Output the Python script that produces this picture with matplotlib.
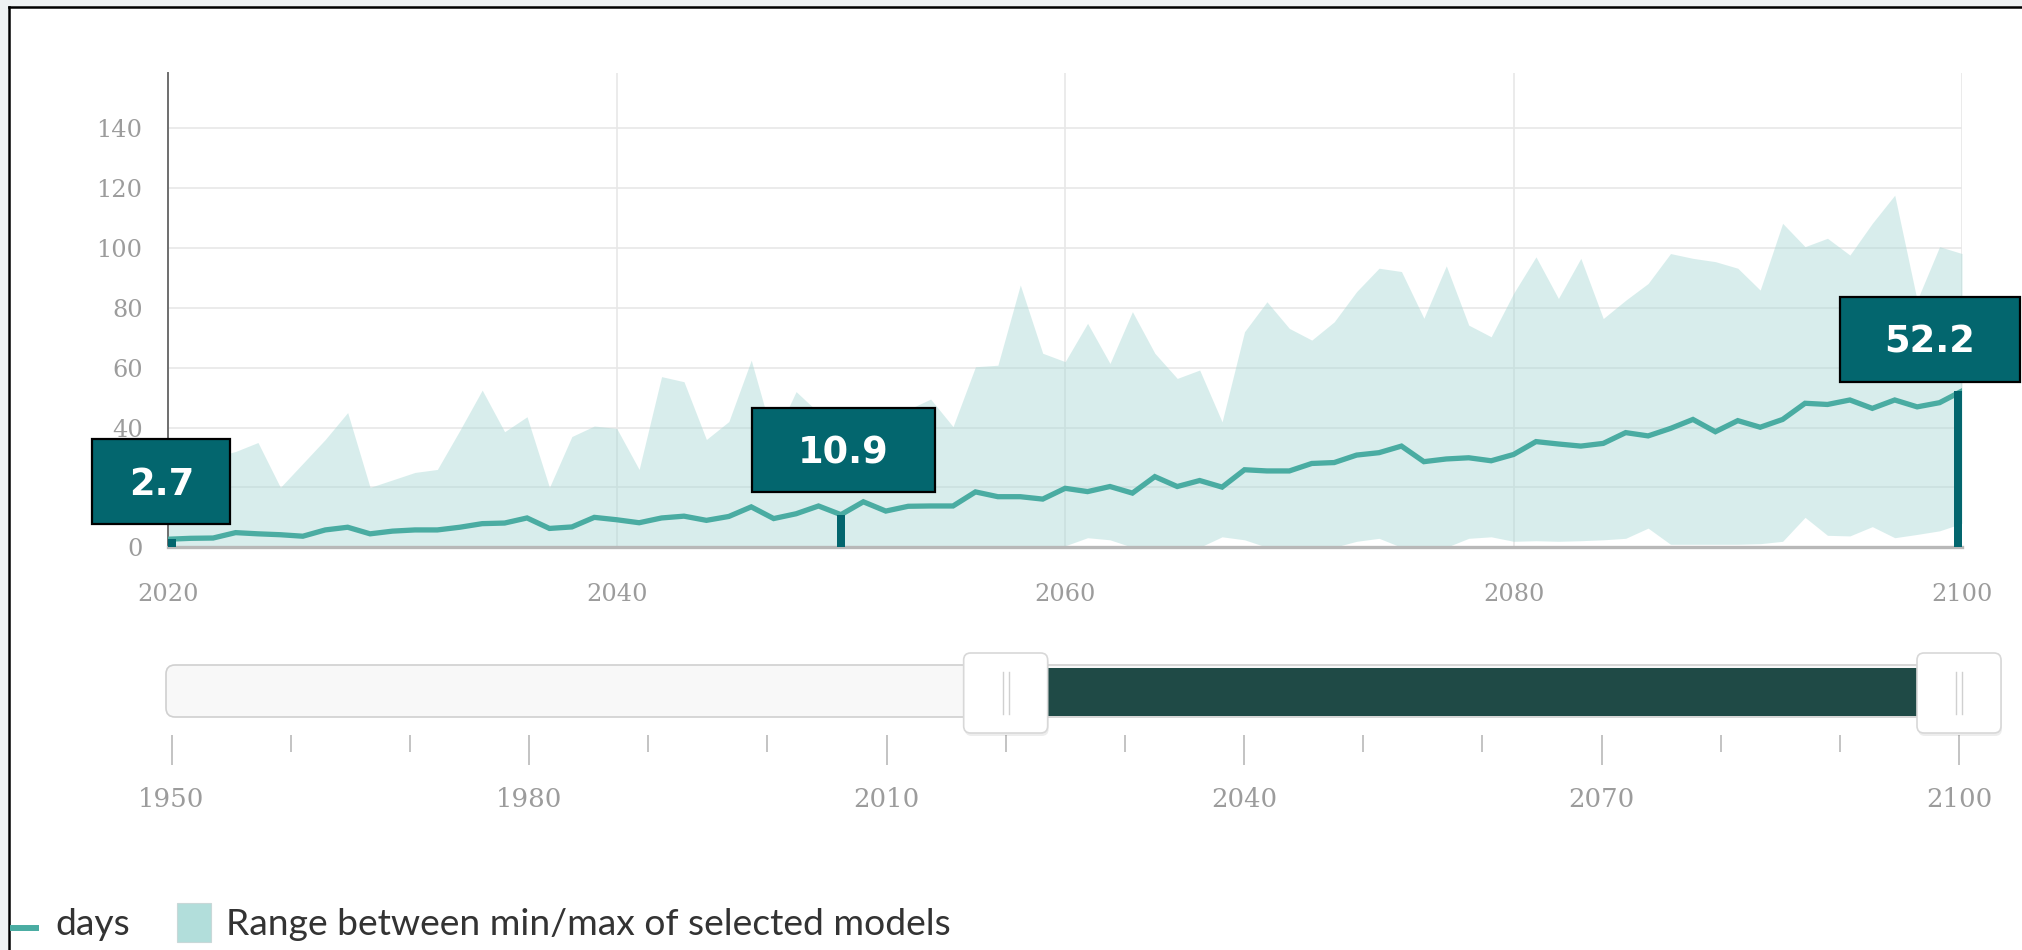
import matplotlib
matplotlib.use("Agg")
import matplotlib.pyplot as plt
from matplotlib.patches import Rectangle, FancyBboxPatch
from matplotlib.lines import Line2D
from matplotlib.transforms import IdentityTransform

# ---------------- data ----------------
years = list(range(2020, 2101))
days = [2.7, 3.0, 3.1, 4.9, 4.5, 4.2, 3.7, 5.8, 6.7, 4.5,
        5.4, 5.8, 5.8, 6.7, 7.9, 8.1, 9.8, 6.3, 6.8, 10.0,
        9.2, 8.2, 9.8, 10.4, 9.0, 10.3, 13.5, 9.6, 11.2, 13.8,
        10.9, 15.2, 12.1, 13.7, 13.8, 13.8, 18.5, 16.9, 16.9, 16.1,
        19.7, 18.6, 20.3, 18.1, 23.6, 20.3, 22.3, 20.1, 25.9, 25.5,
        25.5, 28.0, 28.3, 30.8, 31.6, 33.8, 28.6, 29.5, 29.9, 28.9,
        31.0, 35.3, 34.5, 33.8, 34.7, 38.3, 37.2, 39.7, 42.7, 38.6,
        42.3, 40.1, 42.7, 48.1, 47.7, 49.2, 46.4, 49.2, 46.9, 48.3,
        52.2]
range_max = [24, 27, 30, 32, 35, 20, 28, 36, 45, 20,
             22.5, 25, 26, 39, 52.5, 38.6, 43.6, 20, 37, 40.5,
             39.7, 26, 57, 55.3, 36, 42, 62.5, 36, 52, 45,
             44, 40, 44, 46, 49.5, 40.3, 60.3, 60.8, 87.6, 64.8,
             62, 74.8, 61.4, 78.7, 64.8, 56.4, 59.2, 41.9, 72, 82,
             73.1, 69.2, 75.3, 85.4, 93.2, 92.1, 76.5, 94, 74.2, 70.3,
             84.8, 97, 83.1, 96.5, 76.4, 82.5, 88.1, 98.1, 96.5, 95.4,
             93.2, 85.9, 108.2, 100.4, 103.2, 97.6, 108.2, 117.6, 82.5, 100.4,
             98.1]
range_min = [0] * 40 + [
             0.5, 3.2, 2.5, 0, 0, 0, 0, 3.5, 2.5, 0,
             0, 0, 0, 2, 3, 0, 0, 0, 3, 3.5,
             2, 2.2, 2, 2.2, 2.5, 3, 6.4, 1, 1, 1,
             1, 1.2, 2, 10, 4, 3.8, 6.9, 3.2, 4.3, 5.5,
             8]
highlight_years = [2020, 2050, 2100]
x_ticks = [2020, 2040, 2060, 2080, 2100]
y_ticks = [0, 20, 40, 60, 80, 100, 120, 140]
y_hidden = [20]          # label covered by the value box in the reference
slider_major = [1950, 1980, 2010, 2040, 2070, 2100]
slider_minor = list(range(1950, 2101, 10))
slider_sel = (2020, 2100)
legend_labels = ["days", "Range between min/max of selected models"]

# ---------------- style ----------------
W, H = 2022, 950
LINE_C = "#4aaca2"
BAND_C = "#a9d9d6"
BOX_C = "#03666e"
DARK_C = "#1f4a46"
TICK_C = "#9c9c9c"
SERIF = ["DejaVu Serif"]

fig = plt.figure(figsize=(W / 100, H / 100), dpi=100)
fig.patch.set_facecolor("white")
ID = IdentityTransform()

def px_top(y):
    return H - y

# outer frame
fig.add_artist(Rectangle((0, px_top(7)), W, 7, transform=ID, fc="#eef1f2", ec="none"))
fig.add_artist(Rectangle((0, 0), 8, H, transform=ID, fc="#eef1f2", ec="none"))
fig.add_artist(Line2D([9, W], [px_top(7), px_top(7)], transform=ID, color="black", lw=1.8))
fig.add_artist(Line2D([9, 9], [0, px_top(7)], transform=ID, color="black", lw=1.8))

# ---------------- main chart ----------------
ax_l, ax_r, ax_b, ax_t = 168.3, 1962.0, 547.3, 73.0
ax = fig.add_axes([ax_l / W, (H - ax_b) / H, (ax_r - ax_l) / W, (ax_b - ax_t) / H])
ax.set_xlim(2020, 2100)
ax.set_ylim(0, 158.4)
ax.set_facecolor("none")
ax.set_xticks(x_ticks)
ax.set_yticks(y_ticks)
ax.set_yticklabels(["" if v in y_hidden else str(v) for v in y_ticks])
ax.grid(True, color="#e8e8e8", lw=1.2, zorder=0)
ax.set_axisbelow(True)
for s in ("top", "right"):
    ax.spines[s].set_visible(False)
ax.spines["left"].set_color("#6e6e6e")
ax.spines["left"].set_linewidth(1.4)
ax.spines["bottom"].set_color("#b8b8b8")
ax.spines["bottom"].set_linewidth(2.4)
ax.tick_params(axis="both", length=0, labelcolor=TICK_C, labelsize=17.3)
ax.tick_params(axis="y", pad=18.5)
ax.tick_params(axis="x", pad=25.5)
for lab in ax.get_xticklabels() + ax.get_yticklabels():
    lab.set_family(SERIF)

ax.fill_between(years, range_min, range_max, color=BAND_C, alpha=0.45, lw=0, zorder=1)
ax.plot(years, days, color=LINE_C, lw=3.8, zorder=3, solid_joinstyle="miter")

hl_vals = [days[years.index(y)] for y in highlight_years]
bar_w = 0.36
bar_shift = [bar_w / 2, 0, -bar_w / 2]
ax.bar([y + s for y, s in zip(highlight_years, bar_shift)], hl_vals, width=bar_w,
       color=BOX_C, zorder=4, clip_on=False)

# value boxes: (dx from anchor to left edge, width, gap above anchor, height)
box_geom = [(-76, 138, 15, 85), (-89, 183, 23, 84), (-122, 180, 9, 85)]
fs_box = 26.5
for yr, val, (dx, bw, gap, bh) in zip(highlight_years, hl_vals, box_geom):
    axp, ayp = ax.transData.transform((yr, val))
    x0, y0 = axp + dx, ayp + gap
    fig.add_artist(Rectangle((x0, y0), bw, bh, transform=ID, fc=BOX_C, ec="black",
                             lw=1.6, zorder=5))
    cy = y0 + bh / 2
    fig.text(x0 + bw / 2, cy - 0.729 * fs_box * 100 / 72 / 2, f"{val:.1f}", transform=ID,
             ha="center", va="baseline", color="white", fontsize=fs_box,
             fontweight="bold", family=["DejaVu Sans"], zorder=6)

# ---------------- slider ----------------
sl_l, sl_r, sl_b = 171.5, 1959.0, 735.0
ax2 = fig.add_axes([sl_l / W, (H - sl_b) / H, (sl_r - sl_l) / W, 90 / H])
ax2.set_xlim(1950, 2100)
ax2.set_ylim(0, 1)
ax2.patch.set_visible(False)
for s in ax2.spines.values():
    s.set_visible(False)
ax2.set_yticks([])
ax2.set_xticks(slider_major)
ax2.set_xticks(slider_minor, minor=True)
ax2.set_xticklabels([str(v) for v in slider_major])
ax2.tick_params(axis="x", which="major", direction="out", length=21.6, width=1.1,
                color="#b3b3b3", labelcolor=TICK_C, labelsize=18.7, pad=16)
ax2.tick_params(axis="x", which="minor", direction="out", length=12.2, width=1.1,
                color="#b3b3b3")
for lab in ax2.get_xticklabels():
    lab.set_family(SERIF)

def sx(year):
    return ax2.transData.transform((year, 0))[0]

track_top, track_bot = 665, 717
fig.add_artist(FancyBboxPatch((166, px_top(track_bot)), 1990 - 166, track_bot - track_top,
                              boxstyle="round,pad=0,rounding_size=9", transform=ID,
                              fc="#f8f8f8", ec="#d0d0d0", lw=1.2, zorder=2))
fig.add_artist(Rectangle((sx(slider_sel[0]), px_top(716)), sx(slider_sel[1]) - sx(slider_sel[0]),
                         716 - 668, transform=ID, fc=DARK_C, ec="none", zorder=3))
hw, h_top, h_bot = 84, 653, 733
for yr in slider_sel:
    cx = sx(yr)
    fig.add_artist(FancyBboxPatch((cx - hw / 2 + 1, px_top(h_bot) - 3), hw, h_bot - h_top,
                                  boxstyle="round,pad=0,rounding_size=7", transform=ID,
                                  fc="black", ec="none", alpha=0.07, zorder=4))
    fig.add_artist(FancyBboxPatch((cx - hw / 2, px_top(h_bot)), hw, h_bot - h_top,
                                  boxstyle="round,pad=0,rounding_size=7", transform=ID,
                                  fc="white", ec="#d8d8d8", lw=1.2, zorder=5))
    for off in (-3, 3):
        fig.add_artist(Line2D([cx + off, cx + off], [px_top(714), px_top(672)], transform=ID,
                              color="#d0d0d0", lw=1.0, zorder=6))

# ---------------- legend ----------------
LEG_FONT = ["Lato", "DejaVu Sans"]
fig.add_artist(Line2D([10, 39], [px_top(928), px_top(928)], transform=ID, color=LINE_C,
                      lw=4.3, solid_capstyle="butt"))
fig.text(55, px_top(935), legend_labels[0], transform=ID, ha="left", va="baseline",
         fontsize=26.8, color="#333333", family=LEG_FONT)
fig.add_artist(Rectangle((177, px_top(942)), 34, 39, transform=ID, fc="#b2dedb",
                         ec="#c8d8d8", lw=0.8))
fig.text(226, px_top(935), legend_labels[1], transform=ID, ha="left", va="baseline",
         fontsize=26.8, color="#333333", family=LEG_FONT)

fig.savefig("out.png", dpi=100)
